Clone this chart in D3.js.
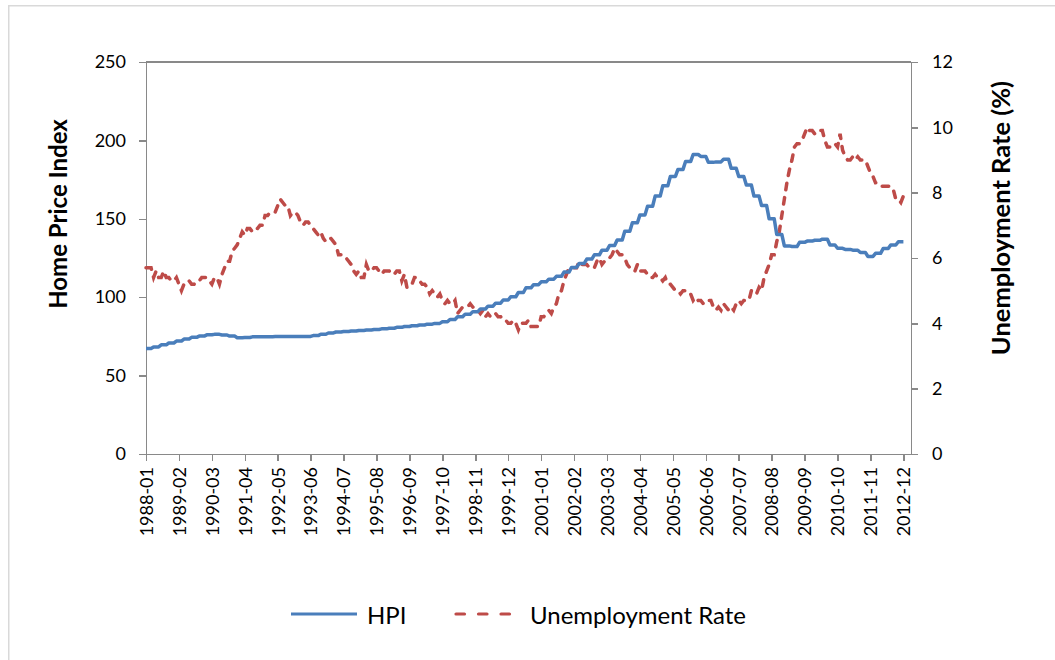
<!DOCTYPE html>
<meta charset="utf-8">
<style>
body { margin: 0; background: #fff; }
text { font-family: Lato, "Open Sans", sans-serif; fill: #000; }
.axis path, .axis line { stroke: #898989; stroke-width: 1.5px; fill: none; shape-rendering: crispEdges; }
.hpi { fill: none; stroke: #4a7ebb; stroke-width: 3.5px; stroke-linejoin: round; }
.unemp { fill: none; stroke: #be4b48; stroke-width: 3.5px; stroke-dasharray: 6.5,8; stroke-linecap: round; }
</style>
<body>
<script src="https://cdn.jsdelivr.net/npm/d3@7"></script>
<script>

var width = 1055;
var height = 660;

// x tick labels, every 13 months
var tickLabels = ['1988-01', '1989-02', '1990-03', '1991-04', '1992-05', '1993-06',
  '1994-07', '1995-08', '1996-09', '1997-10', '1998-11', '1999-12',
  '2001-01', '2002-02', '2003-03', '2004-04', '2005-05', '2006-06',
  '2007-07', '2008-08', '2009-09', '2010-10', '2011-11', '2012-12'];

var hpiTicks = [0, 50, 100, 150, 200, 250];
var rateTicks = [0, 2, 4, 6, 8, 10, 12];

// monthly home price index, 1988-01 .. 2012-12 (quarterly values held 3 months)
var hpi = [
  67.3, 67.3, 67.3, 68.3, 68.3, 68.3, 69.6, 69.6, 69.6, 70.8, 70.8, 70.8,
  72.0, 72.0, 72.0, 73.3, 73.3, 73.3, 74.4, 74.4, 74.4, 75.2, 75.2, 75.2,
  76.0, 76.0, 76.0, 76.3, 76.3, 76.3, 75.9, 75.9, 75.9, 75.2, 75.2, 75.2,
  74.2, 74.2, 74.2, 74.3, 74.3, 74.3, 74.7, 74.7, 74.7, 74.8, 74.8, 74.8,
  74.8, 74.8, 74.8, 74.9, 74.9, 74.9, 74.9, 74.9, 74.9, 75.0, 75.0, 75.0,
  75.0, 75.0, 75.0, 75.0, 75.0, 75.0, 75.5, 75.5, 75.5, 76.4, 76.4, 76.4,
  77.2, 77.2, 77.2, 77.8, 77.8, 77.8, 78.1, 78.1, 78.1, 78.4, 78.4, 78.4,
  78.8, 78.8, 78.8, 79.1, 79.1, 79.1, 79.4, 79.4, 79.4, 79.8, 79.8, 79.8,
  80.2, 80.2, 80.2, 80.8, 80.8, 80.8, 81.3, 81.3, 81.3, 81.8, 81.8, 81.8,
  82.3, 82.3, 82.3, 82.8, 82.8, 82.8, 83.3, 83.3, 83.3, 84.3, 84.3, 84.3,
  85.8, 85.8, 85.8, 87.5, 87.5, 87.5, 89.2, 89.2, 89.2, 90.8, 90.8, 90.8,
  92.5, 92.5, 92.5, 94.3, 94.3, 94.3, 96.2, 96.2, 96.2, 98.2, 98.2, 98.2,
  100.3, 100.3, 100.3, 103.0, 103.0, 103.0, 106.0, 106.0, 106.0, 108.0, 108.0, 108.0,
  109.8, 109.8, 109.8, 111.5, 111.5, 111.5, 113.3, 113.3, 113.3, 116.0, 116.0, 116.0,
  119.0, 119.0, 119.0, 121.5, 121.5, 121.5, 124.3, 124.3, 124.3, 127.0, 127.0, 127.0,
  130.0, 130.0, 130.0, 133.0, 133.0, 133.0, 136.5, 136.5, 136.5, 142.0, 142.0, 142.0,
  147.5, 147.5, 147.5, 152.5, 152.5, 152.5, 158.0, 158.0, 158.0, 164.5, 164.5, 164.5,
  171.0, 171.0, 171.0, 177.0, 177.0, 177.0, 181.5, 181.5, 181.5, 186.5, 186.5, 186.5,
  191.0, 191.0, 191.0, 189.8, 189.8, 189.8, 186.0, 186.0, 186.0, 186.3, 186.3, 186.3,
  188.0, 188.0, 188.0, 182.2, 182.2, 182.2, 177.0, 177.0, 177.0, 171.5, 171.5, 171.5,
  164.5, 164.5, 164.5, 158.5, 158.5, 158.5, 150.0, 150.0, 150.0, 140.0, 140.0, 140.0,
  132.7, 132.7, 132.7, 132.3, 132.3, 132.3, 135.0, 135.0, 135.0, 135.8, 135.8, 135.8,
  136.3, 136.3, 136.3, 137.0, 137.0, 137.0, 133.3, 133.3, 133.3, 131.2, 131.2, 131.2,
  130.5, 130.5, 130.5, 130.0, 130.0, 130.0, 128.5, 128.5, 128.5, 126.0, 126.0, 126.0,
  128.0, 128.0, 128.0, 131.0, 131.0, 131.0, 133.3, 133.3, 133.3, 135.4, 135.4, 135.4
];

// monthly unemployment rate (%), 1988-01 .. 2012-12
var unemployment = [
  5.7, 5.7, 5.7, 5.4, 5.6, 5.4, 5.4, 5.6, 5.4, 5.4, 5.3, 5.3,
  5.4, 5.2, 5.0, 5.2, 5.2, 5.3, 5.2, 5.2, 5.3, 5.3, 5.4, 5.4,
  5.4, 5.3, 5.2, 5.4, 5.4, 5.2, 5.5, 5.7, 5.9, 5.9, 6.2, 6.3,
  6.4, 6.6, 6.8, 6.7, 6.9, 6.9, 6.8, 6.9, 6.9, 7.0, 7.0, 7.3,
  7.3, 7.4, 7.4, 7.4, 7.6, 7.8, 7.7, 7.6, 7.6, 7.3, 7.4, 7.4,
  7.3, 7.1, 7.0, 7.1, 7.1, 7.0, 6.9, 6.8, 6.7, 6.8, 6.6, 6.5,
  6.6, 6.6, 6.5, 6.4, 6.1, 6.1, 6.1, 6.0, 5.9, 5.8, 5.6, 5.5,
  5.6, 5.4, 5.4, 5.8, 5.6, 5.6, 5.7, 5.7, 5.6, 5.5, 5.6, 5.6,
  5.6, 5.5, 5.5, 5.6, 5.6, 5.3, 5.5, 5.1, 5.2, 5.2, 5.4, 5.4,
  5.3, 5.2, 5.2, 5.1, 4.9, 5.0, 4.9, 4.8, 4.9, 4.7, 4.6, 4.7,
  4.6, 4.6, 4.7, 4.3, 4.4, 4.5, 4.5, 4.5, 4.6, 4.5, 4.4, 4.4,
  4.3, 4.4, 4.2, 4.3, 4.2, 4.3, 4.3, 4.2, 4.2, 4.1, 4.1, 4.0,
  4.0, 4.1, 4.0, 3.8, 4.0, 4.0, 4.0, 4.1, 3.9, 3.9, 3.9, 3.9,
  4.2, 4.2, 4.3, 4.4, 4.3, 4.5, 4.6, 4.9, 5.0, 5.3, 5.5, 5.7,
  5.7, 5.7, 5.7, 5.9, 5.8, 5.8, 5.8, 5.7, 5.7, 5.7, 5.9, 6.0,
  5.8, 5.9, 5.9, 6.0, 6.1, 6.3, 6.2, 6.1, 6.1, 6.0, 5.8, 5.7,
  5.7, 5.6, 5.8, 5.6, 5.6, 5.6, 5.5, 5.4, 5.4, 5.5, 5.4, 5.4,
  5.3, 5.4, 5.2, 5.2, 5.1, 5.0, 5.0, 4.9, 5.0, 5.0, 5.0, 4.9,
  4.7, 4.8, 4.7, 4.7, 4.6, 4.6, 4.7, 4.7, 4.5, 4.4, 4.5, 4.4,
  4.6, 4.5, 4.4, 4.5, 4.4, 4.6, 4.7, 4.6, 4.7, 4.7, 4.7, 5.0,
  5.0, 4.9, 5.1, 5.0, 5.4, 5.6, 5.8, 6.1, 6.1, 6.5, 6.8, 7.3,
  7.8, 8.3, 8.7, 9.0, 9.4, 9.5, 9.5, 9.6, 9.8, 10.0, 9.9, 9.9,
  9.8, 9.8, 9.9, 9.9, 9.6, 9.4, 9.4, 9.5, 9.5, 9.4, 9.8, 9.3,
  9.1, 9.0, 9.0, 9.1, 9.0, 9.1, 9.0, 9.0, 9.0, 8.8, 8.6, 8.5,
  8.3, 8.3, 8.2, 8.2, 8.2, 8.2, 8.2, 8.1, 7.8, 7.8, 7.7, 7.9
];

// month index of each tick label
var tickIdx = tickLabels.map(s => (+s.slice(0, 4) - 1988) * 12 + (+s.slice(5) - 1));

var plotL = 146, plotR = 911, plotT = 62, plotB = 454;

var x = d3.scaleLinear().domain([0, 302]).range([plotL, plotR]);
var yL = d3.scaleLinear().domain([0, 250]).range([plotB, plotT]);
var yR = d3.scaleLinear().domain([0, 12]).range([plotB, plotT]);

var svg = d3.select('body')
  .append('svg')
  .attr('width', width)
  .attr('height', height);

svg.append('rect')
  .attr('width', width).attr('height', height)
  .attr('fill', '#fff');

// outer chart border (runs off the right/bottom edge)
svg.append('rect')
  .attr('x', 8.75).attr('y', 5.75)
  .attr('width', 1100).attr('height', 700)
  .attr('fill', 'none')
  .attr('stroke', '#d9d9d9')
  .attr('stroke-width', 1.5);

// plot area top edge
svg.append('line')
  .attr('x1', plotL).attr('x2', plotR)
  .attr('y1', plotT).attr('y2', plotT)
  .attr('stroke', '#898989').attr('stroke-width', 1.5)
  .attr('shape-rendering', 'crispEdges');

var gL = svg.append('g')
  .attr('class', 'axis')
  .attr('transform', 'translate(' + plotL + ',0)')
  .call(d3.axisLeft(yL).tickValues(hpiTicks).tickSize(7).tickSizeOuter(0).tickPadding(13));

var gR = svg.append('g')
  .attr('class', 'axis')
  .attr('transform', 'translate(' + plotR + ',0)')
  .call(d3.axisRight(yR).tickValues(rateTicks).tickSize(7).tickSizeOuter(0).tickPadding(14));

var gX = svg.append('g')
  .attr('class', 'axis')
  .attr('transform', 'translate(0,' + plotB + ')')
  .call(d3.axisBottom(x).tickValues(tickIdx).tickFormat((d, i) => tickLabels[i])
    .tickSize(7).tickSizeOuter(0));

gX.selectAll('text')
  .attr('transform', 'rotate(-90)')
  .attr('text-anchor', 'end')
  .attr('x', -13)
  .attr('y', 0)
  .attr('dy', '0.35em');

svg.selectAll('.axis text')
  .attr('font-family', 'Lato, sans-serif')
  .attr('font-size', 18)
  .attr('fill', '#000');

// series
var lineL = d3.line().x((d, i) => x(i)).y(d => yL(d));
var lineR = d3.line().x((d, i) => x(i)).y(d => yR(d));

svg.append('path')
  .datum(unemployment)
  .attr('class', 'unemp')
  .attr('d', lineR);

svg.append('path')
  .datum(hpi)
  .attr('class', 'hpi')
  .attr('d', lineL);

// axis titles
svg.append('text')
  .attr('transform', 'translate(57,214) rotate(-90)')
  .attr('text-anchor', 'middle')
  .attr('dominant-baseline', 'central')
  .attr('font-weight', 'bold')
  .attr('font-size', 24)
  .text('Home Price Index');

svg.append('text')
  .attr('transform', 'translate(1000,218) rotate(-90)')
  .attr('text-anchor', 'middle')
  .attr('dominant-baseline', 'central')
  .attr('font-weight', 'bold')
  .attr('font-size', 25.5)
  .text('Unemployment Rate (%)');

// legend
var legend = svg.append('g');
legend.append('line')
  .attr('x1', 291).attr('x2', 357).attr('y1', 614).attr('y2', 614)
  .attr('stroke', '#4a7ebb').attr('stroke-width', 3.2);
legend.append('text')
  .attr('x', 367).attr('y', 614)
  .attr('dominant-baseline', 'central')
  .attr('font-size', 24)
  .text('HPI');
legend.append('line')
  .attr('x1', 456).attr('x2', 512).attr('y1', 614).attr('y2', 614)
  .attr('stroke', '#be4b48').attr('stroke-width', 3.2)
  .attr('stroke-linecap', 'round')
  .attr('stroke-dasharray', '8.5,14');
legend.append('text')
  .attr('x', 530).attr('y', 614)
  .attr('dominant-baseline', 'central')
  .attr('font-size', 24)
  .text('Unemployment Rate');

</script>
</body>
</html>
